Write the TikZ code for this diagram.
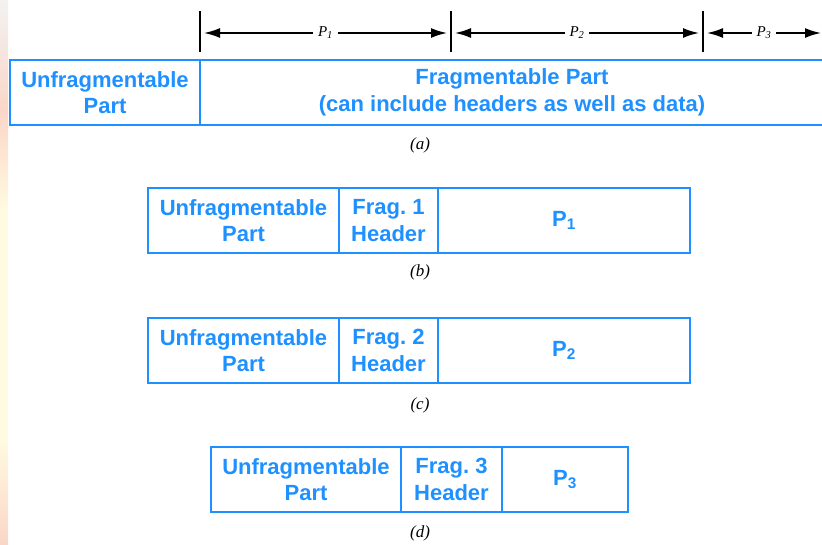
\documentclass[tikz,border=0pt]{standalone}
\usepackage{fontspec}
\setmainfont{Liberation Serif}
\setsansfont{Liberation Sans}
\usetikzlibrary{arrows.meta}
\usetikzlibrary{positioning}

\definecolor{cellblue}{RGB}{30,144,255}
\definecolor{slidepink}{RGB}{250,214,200}
\definecolor{slideyellow}{RGB}{255,250,226}

\tikzset{
  cell/.style={draw=cellblue, line width=1.8pt, text=cellblue, align=center,
    font=\sffamily\bfseries\fontsize{22}{26.5}\selectfont\frenchspacing,
    inner sep=0pt, outer sep=0pt, minimum height=65pt},
  caption/.style={font=\itshape\fontsize{17}{19}\selectfont},
  span/.style={{Latex[length=16pt,width=10pt]}-{Latex[length=16pt,width=10pt]}, line width=1.8pt},
  spanlabel/.style={fill=white, inner xsep=5pt, inner ysep=1pt, font=\itshape\fontsize{15}{17}\selectfont},
  tickmark/.style={line width=2.4pt},
}

\begin{document}
\begin{tikzpicture}[x=1pt,y=-1pt]
\useasboundingbox (0,0) rectangle (822,544);
% slide edge
\shade[top color=white!95!black, bottom color=slidepink] (0,0) rectangle (8,110);
\shade[top color=slidepink, bottom color=slideyellow] (0,110) rectangle (8,210);
\fill[slideyellow] (0,210) rectangle (8,440);
\shade[top color=slideyellow, bottom color=slidepink] (0,440) rectangle (8,544);

% extent of the pieces
\coordinate (s1) at (200,33);
\coordinate (s2) at (451,33);
\coordinate (s3) at (703,33);
\coordinate (s4) at (825,33);
\foreach \s in {s1,s2,s3}
  \draw[tickmark] ([yshift=22pt]\s) -- ([yshift=-19pt]\s);
\draw[span] ([xshift=4pt]s1) -- node[spanlabel] {P\textsubscript{1}} ([xshift=-4pt]s2);
\draw[span] ([xshift=4pt]s2) -- node[spanlabel] {P\textsubscript{2}} ([xshift=-4pt]s3);
\draw[span] ([xshift=4pt]s3) -- node[spanlabel] {P\textsubscript{3}} ([xshift=-4pt]s4);

% (a) original packet
\node[cell, minimum width=190pt, anchor=north west] (ua) at (10,60) {Unfragmentable\\Part};
\node[cell, draw=none, minimum width=624pt, right=0pt of ua] (fa) {Fragmentable Part\\(can include headers as well as data)};
\draw[cellblue, line width=1.8pt] (fa.north west) -- (fa.north east) (fa.south west) -- (fa.south east);
\node[caption] (capa) at (420,145) {(a)};

% (b) first fragment
\node[cell, minimum width=191pt, anchor=north west] (ub) at (148,188) {Unfragmentable\\Part};
\node[cell, minimum width=99pt, right=0pt of ub] (hb) {Frag. 1\\Header};
\node[cell, minimum width=252pt, right=0pt of hb] (pb) {P\textsubscript{1}};
\node[caption] (capb) at (420,272) {(b)};

% (c) second fragment
\node[cell, minimum width=191pt, anchor=north west] (uc) at (148,318) {Unfragmentable\\Part};
\node[cell, minimum width=99pt, right=0pt of uc] (hc) {Frag. 2\\Header};
\node[cell, minimum width=252pt, right=0pt of hc] (pc) {P\textsubscript{2}};
\node[caption] (capc) at (420,405) {(c)};

% (d) third fragment
\node[cell, minimum width=190pt, anchor=north west] (ud) at (211,447) {Unfragmentable\\Part};
\node[cell, minimum width=101pt, right=0pt of ud] (hd) {Frag. 3\\Header};
\node[cell, minimum width=126pt, right=0pt of hd] (pd) {P\textsubscript{3}};
\node[caption] (capd) at (420,533) {(d)};
\end{tikzpicture}
\end{document}
